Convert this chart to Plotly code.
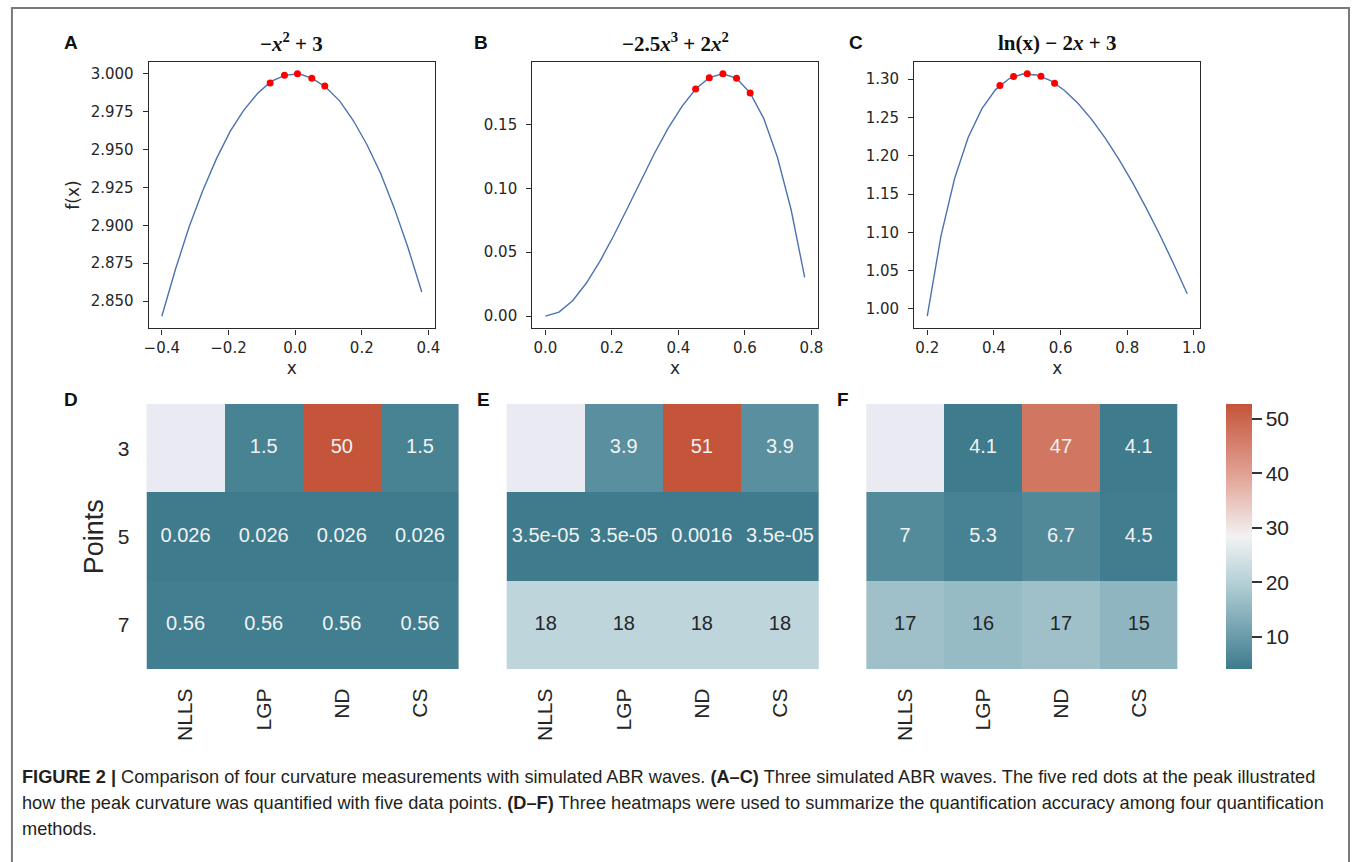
import plotly.graph_objects as go

# ---------------- data ----------------
# Panel A: -x^2 + 3
xa = [-0.400, -0.359, -0.318, -0.277, -0.236, -0.195, -0.154, -0.113, -0.072, -0.031,
      0.011, 0.052, 0.093, 0.134, 0.175, 0.216, 0.257, 0.298, 0.339, 0.380]
ya = [2.840, 2.871, 2.899, 2.923, 2.944, 2.962, 2.976, 2.987, 2.995, 2.999,
      3.000, 2.997, 2.991, 2.982, 2.969, 2.953, 2.934, 2.911, 2.885, 2.856]
xa_pk = [-0.075, -0.032, 0.007, 0.050, 0.089]
ya_pk = [2.994, 2.999, 3.000, 2.997, 2.992]

# Panel B: -2.5x^3 + 2x^2
xb = [0.000, 0.041, 0.082, 0.123, 0.164, 0.205, 0.246, 0.287, 0.328, 0.369,
      0.411, 0.452, 0.493, 0.534, 0.575, 0.616, 0.657, 0.698, 0.739, 0.780]
yb = [0.0000, 0.0032, 0.0121, 0.0257, 0.0429, 0.0627, 0.0840, 0.1059, 0.1272, 0.1469,
      0.1641, 0.1776, 0.1865, 0.1896, 0.1860, 0.1746, 0.1545, 0.1243, 0.0834, 0.0304]
xb_pk = [0.452, 0.493, 0.534, 0.575, 0.616]
yb_pk = [0.1776, 0.1865, 0.1896, 0.1860, 0.1746]

# Panel C: ln(x) - 2x + 3
xc = [0.200, 0.241, 0.282, 0.323, 0.364, 0.405, 0.446, 0.487, 0.528, 0.570,
      0.611, 0.652, 0.693, 0.734, 0.775, 0.816, 0.857, 0.898, 0.939, 0.980]
yc = [0.9906, 1.0952, 1.1703, 1.2242, 1.2615, 1.2863, 1.3007, 1.3066, 1.3054, 1.2981,
      1.2855, 1.2685, 1.2474, 1.2230, 1.1952, 1.1648, 1.1317, 1.0965, 1.0591, 1.0198]
xc_pk = [0.418, 0.459, 0.500, 0.541, 0.582]
yc_pk = [1.2917, 1.3033, 1.3069, 1.3037, 1.2947]

# Heatmaps
methods = ["NLLS", "LGP", "ND", "CS"]
points = ["3", "5", "7"]
d_vals = [[None, 1.5, 50, 1.5],
          [0.026, 0.026, 0.026, 0.026],
          [0.56, 0.56, 0.56, 0.56]]
e_vals = [[None, 3.9, 51, 3.9],
          [3.5e-05, 3.5e-05, 0.0016, 3.5e-05],
          [18, 18, 18, 18]]
f_vals = [[None, 4.1, 47, 4.1],
          [7, 5.3, 6.7, 4.5],
          [17, 16, 17, 15]]
cbar_ticks = [10, 20, 30, 40, 50]

# ---------------- layout helpers ----------------
W, H = 1357, 862


def fx(p):
    return p / W


def fy(p):
    return 1 - p / H


SANS = "Liberation Sans, Arial, sans-serif"
DJ = "DejaVu Sans, sans-serif"
SERIF = "Liberation Serif, DejaVu Serif, serif"
TXT = "#262626"

colorscale = [[0.0, "rgb(61,123,141)"], [0.33, "rgb(182,209,216)"],
              [0.5, "rgb(242,242,242)"], [0.74, "rgb(225,160,145)"],
              [1.0, "rgb(196,84,58)"]]

fig = go.Figure()

line_sets = [(xa, ya, xa_pk, ya_pk), (xb, yb, xb_pk, yb_pk), (xc, yc, xc_pk, yc_pk)]
for i, (lx, ly, px_, py_) in enumerate(line_sets):
    ax = "" if i == 0 else str(i + 1)
    fig.add_trace(go.Scatter(x=lx, y=ly, mode="lines", line=dict(color="#4c72b0", width=1.4),
                             xaxis="x" + ax, yaxis="y" + ax, hoverinfo="skip", showlegend=False))
    fig.add_trace(go.Scatter(x=px_, y=py_, mode="markers", marker=dict(color="#ff0000", size=7),
                             xaxis="x" + ax, yaxis="y" + ax, hoverinfo="skip", showlegend=False))

heat_sets = [(d_vals, 0.026, 50), (e_vals, 3.5e-05, 51), (f_vals, 4.06, 52.7)]
for i, (vals, zmin, zmax) in enumerate(heat_sets):
    ax = str(i + 4)
    last = i == 2
    hm = dict(z=vals, x=methods, y=points, zmin=zmin, zmax=zmax, colorscale=colorscale,
              xaxis="x" + ax, yaxis="y" + ax, hoverinfo="skip", showscale=last)
    if last:
        hm["colorbar"] = dict(x=fx(1230.5), xanchor="left", y=fy(404), yanchor="top",
                              len=265 / H, lenmode="fraction", thickness=26, xpad=0, ypad=0,
                              outlinewidth=0, tickvals=cbar_ticks, ticks="outside", ticklen=10,
                              tickwidth=2, tickcolor="#333333",
                              tickfont=dict(family=SANS, size=21, color=TXT))
    fig.add_trace(go.Heatmap(**hm))
    tx, ty, tt, tc = [], [], [], []
    for r, row in enumerate(vals):
        for c, v in enumerate(row):
            if v is None:
                continue
            t = (v - zmin) / (zmax - zmin)
            tx.append(methods[c])
            ty.append(points[r])
            tt.append(format(v, ".2g"))
            tc.append(TXT if 0.2 < t < 0.8 else "#f2f2f2")
    fig.add_trace(go.Scatter(x=tx, y=ty, text=tt, mode="text",
                             textfont=dict(family=SANS, size=20, color=tc),
                             xaxis="x" + ax, yaxis="y" + ax, hoverinfo="skip", showlegend=False))

# axes
top_dom_y = [fy(328.3), fy(61.7)]
top_x = [(145, 433.3), (531.7, 819.3), (916.7, 1205)]
top_xr = [[-0.439, 0.419], [-0.039, 0.819], [0.161, 1.019]]
top_yr = [[2.832, 3.008], [-0.0095, 0.199], [0.9748, 1.3227]]
top_ydt = [(2.85, 0.025, ".3f"), (0.0, 0.05, ".2f"), (1.0, 0.05, ".2f")]
top_xdt = [(-0.4, 0.2), (0.0, 0.2), (0.2, 0.2)]

common = dict(showline=True, mirror=True, linecolor="#2a2a2a", linewidth=1.4,
              ticks="outside", ticklen=5, tickwidth=1.2, tickcolor="#2a2a2a",
              showgrid=False, zeroline=False,
              tickfont=dict(family=DJ, size=15, color=TXT))

for i in range(3):
    ax = "" if i == 0 else str(i + 1)
    fig.layout["xaxis" + ax] = dict(
        common, domain=[fx(top_x[i][0]), fx(top_x[i][1])], anchor="y" + ax,
        range=top_xr[i], tick0=top_xdt[i][0], dtick=top_xdt[i][1], tickformat=".1f",
        ticklabelstandoff=0,
        title=dict(text="x", font=dict(family=DJ, size=17, color=TXT), standoff=6))
    ydict = dict(
        common, domain=top_dom_y, anchor="x" + ax, range=top_yr[i],
        tick0=top_ydt[i][0], dtick=top_ydt[i][1], tickformat=top_ydt[i][2],
        ticklabelstandoff=6)
    if i == 0:
        ydict["title"] = dict(text="f(x)", font=dict(family=DJ, size=17, color=TXT), standoff=6)
    fig.layout["yaxis" + ax] = ydict

heat_x = [(142.7, 457.7), (505.7, 820.7), (868.3, 1182.3)]
heat_dom_y = [fy(669.3), fy(404)]
for i in range(3):
    ax = str(i + 4)
    fig.layout["xaxis" + ax] = dict(
        domain=[fx(heat_x[i][0]), fx(heat_x[i][1])], anchor="y" + ax,
        type="category", categoryorder="array", categoryarray=methods,
        showline=False, showgrid=False, zeroline=False, ticks="", tickangle=-90,
        ticklabelstandoff=14, tickfont=dict(family=SANS, size=21, color=TXT))
    ydict = dict(
        domain=heat_dom_y, anchor="x" + ax, type="category", categoryorder="array",
        categoryarray=points, autorange="reversed", showline=False, showgrid=False,
        zeroline=False, ticks="", showticklabels=(i == 0), ticklabelstandoff=16,
        tickfont=dict(family=SANS, size=21, color=TXT))
    if i == 0:
        ydict["title"] = dict(text="Points", font=dict(family=SANS, size=27, color=TXT),
                              standoff=6)
    fig.layout["yaxis" + ax] = ydict

shapes = [dict(type="rect", xref="paper", yref="paper", x0=fx(7), x1=fx(1355), y0=-0.05,
               y1=fy(8), line=dict(color="#7a7a7a", width=2), fillcolor="rgba(0,0,0,0)",
               layer="above")]
for i in range(3):
    ax = str(i + 4)
    shapes.append(dict(type="rect", xref="x" + ax + " domain", yref="y" + ax + " domain",
                       x0=0, x1=1, y0=0, y1=1, fillcolor="#eaeaf2", line=dict(width=0),
                       layer="below"))

annotations = []
titles = ["−<i>x</i><sup>2</sup> + 3",
          "−2.5<i>x</i><sup>3</sup> + 2<i>x</i><sup>2</sup>",
          "ln(x) − 2<i>x</i> + 3"]
for i in range(3):
    annotations.append(dict(text="<b>" + titles[i] + "</b>", xref="paper", yref="paper",
                            x=fx((top_x[i][0] + top_x[i][1]) / 2), y=fy(43), xanchor="center",
                            yanchor="middle", showarrow=False,
                            font=dict(family=SERIF, size=21, color="#111111")))

letters = [("A", 67, 42), ("B", 480, 42), ("C", 858, 42),
           ("D", 67, 399), ("E", 482, 399), ("F", 845, 399)]
for t, x, y in letters:
    annotations.append(dict(text="<b>" + t + "</b>", xref="paper", yref="paper",
                            x=fx(x), y=fy(y), xanchor="center", yanchor="middle",
                            showarrow=False, font=dict(family=SANS, size=19, color="#111111")))

caption = [
    "<b>FIGURE 2 |</b> Comparison of four curvature measurements with simulated ABR waves. "
    "<b>(A–C)</b> Three simulated ABR waves. The five red dots at the peak illustrated",
    "how the peak curvature was quantified with five data points. <b>(D–F)</b> Three heatmaps "
    "were used to summarize the quantification accuracy among four quantification",
    "methods.",
]
for k, line in enumerate(caption):
    annotations.append(dict(text=line, xref="paper", yref="paper", x=fx(15), y=fy(777 + 26 * k),
                            xanchor="left", yanchor="middle", showarrow=False,
                            font=dict(family=SANS, size=18.2, color="#231f20")))

fig.update_layout(width=W, height=H, margin=dict(l=0, r=0, t=0, b=0),
                  paper_bgcolor="white", plot_bgcolor="white", showlegend=False,
                  shapes=shapes, annotations=annotations)

fig.write_html("out.html", config={"displayModeBar": False},
               post_script="document.body.style.margin='0px';"
                           "document.body.style.overflow='hidden';")
